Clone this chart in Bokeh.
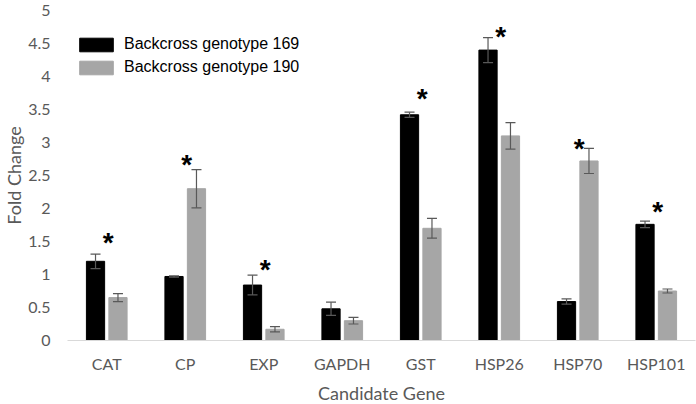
from bokeh.plotting import figure
from bokeh.models import (Range1d, FixedTicker, Whisker, ColumnDataSource, Legend,
                          LegendItem, TeeHead)
from bokeh.embed import file_html
from bokeh.resources import INLINE
from bokeh.core.properties import value

# ---------------- data ----------------
genes = ["CAT", "CP", "EXP", "GAPDH", "GST", "HSP26", "HSP70", "HSP101"]
series_names = ["Backcross genotype 169", "Backcross genotype 190"]
g169 = [1.20, 0.97, 0.84, 0.48, 3.42, 4.40, 0.59, 1.76]
g169_err = [0.11, 0.01, 0.15, 0.10, 0.04, 0.19, 0.04, 0.05]
g190 = [0.65, 2.30, 0.17, 0.30, 1.70, 3.10, 2.72, 0.75]
g190_err = [0.06, 0.29, 0.04, 0.05, 0.15, 0.20, 0.19, 0.03]
star_y = [1.55, 2.72, 1.13, None, 3.72, 4.66, 2.97, 2.02]
y_ticks = [0, 0.5, 1, 1.5, 2, 2.5, 3, 3.5, 4, 4.5, 5]
y_tick_labels = ["0", "0.5", "1", "1.5", "2", "2.5", "3", "3.5", "4", "4.5", "5"]
x_title = "Candidate Gene"
y_title = "Fold Change"

# ---------------- styling ----------------
BLACK = "#000000"
GRAY = "#a6a6a6"
TXT = "#595959"
FONT = "Lato"
OFF = 0.143
W = 0.232

centers = [i + 0.5 for i in range(len(genes))]

p = figure(frame_width=628, frame_height=330, output_backend="svg",
           toolbar_location=None,
           x_range=Range1d(0, len(genes)), y_range=Range1d(0, 5),
           min_border_left=67, min_border_right=1, min_border_top=10,
           min_border_bottom=64, outline_line_color=None,
           background_fill_color="white", border_fill_color="white")

s1 = ColumnDataSource(dict(x=[c - OFF for c in centers], top=g169,
                           upper=[v + e for v, e in zip(g169, g169_err)],
                           lower=[v - e for v, e in zip(g169, g169_err)]))
s2 = ColumnDataSource(dict(x=[c + OFF for c in centers], top=g190,
                           upper=[v + e for v, e in zip(g190, g190_err)],
                           lower=[v - e for v, e in zip(g190, g190_err)]))

r1 = p.vbar(x="x", top="top", bottom=0, width=W, source=s1,
            fill_color=BLACK, line_color=BLACK)
r2 = p.vbar(x="x", top="top", bottom=0, width=W, source=s2,
            fill_color=GRAY, line_color=GRAY)

for s in (s1, s2):
    wk = Whisker(base="x", upper="upper", lower="lower", source=s,
                 line_color=TXT, line_width=1.2, level="overlay",
                 upper_head=TeeHead(size=10, line_color=TXT, line_width=1.2),
                 lower_head=TeeHead(size=10, line_color=TXT, line_width=1.2))
    p.add_layout(wk)

sx = [c + 0.02 for c, y in zip(centers, star_y) if y is not None]
sy = [y for y in star_y if y is not None]
p.text(x=sx, y=sy, text=["*"] * len(sx), text_align="center",
       text_baseline="alphabetic", y_offset=4,
       text_font=value("Liberation Sans"), text_font_size="28px",
       text_font_style="bold", text_color=BLACK)

# axes
p.xgrid.visible = False
p.ygrid.visible = False

xa = p.xaxis[0]
xa.ticker = FixedTicker(ticks=centers)
xa.major_label_overrides = {c: g for c, g in zip(centers, genes)}
xa.axis_line_color = "#d9d9d9"
xa.axis_line_width = 1.2
xa.major_tick_line_color = None
xa.minor_tick_line_color = None
xa.major_tick_out = 0
xa.major_label_standoff = 13
xa.major_label_text_font = FONT
xa.major_label_text_font_size = "16px"
xa.major_label_text_color = TXT
xa.axis_label = x_title
xa.axis_label_text_font = FONT
xa.axis_label_text_font_size = "18px"
xa.axis_label_text_font_style = "normal"
xa.axis_label_text_color = TXT
xa.axis_label_standoff = 6

ya = p.yaxis[0]
ya.ticker = FixedTicker(ticks=y_ticks)
ya.major_label_overrides = {t: l for t, l in zip(y_ticks, y_tick_labels)}
ya.axis_line_color = None
ya.major_tick_line_color = None
ya.minor_tick_line_color = None
ya.major_tick_out = 0
ya.major_label_standoff = 17
ya.major_label_text_font = FONT
ya.major_label_text_font_size = "16px"
ya.major_label_text_color = TXT
ya.axis_label = y_title
ya.axis_label_text_font = FONT
ya.axis_label_text_font_size = "18px"
ya.axis_label_text_font_style = "normal"
ya.axis_label_text_color = TXT
ya.axis_label_standoff = 0

legend = Legend(items=[LegendItem(label=series_names[0], renderers=[r1]),
                       LegendItem(label=series_names[1], renderers=[r2])],
                location=(8, 264), glyph_width=42, glyph_height=17,
                label_height=17, spacing=5, padding=0, margin=0,
                label_standoff=7, border_line_color=None,
                background_fill_alpha=0,
                label_text_font="Liberation Sans", label_text_font_size="16px",
                label_text_color=BLACK)
p.add_layout(legend, "center")

open("out.html", "w").write(file_html(p, INLINE))
